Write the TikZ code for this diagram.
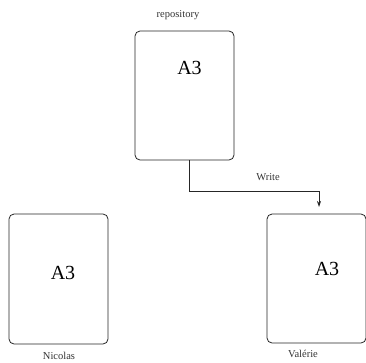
\documentclass[tikz,border=0pt]{standalone}
\usepackage{fontspec}
\setmainfont{Liberation Serif}
\usetikzlibrary{arrows.meta}

\begin{document}
\begin{tikzpicture}[x=1pt,y=-1pt,
        sheet/.style={rectangle,draw=black!85,line width=0.8pt,rounded corners=5pt,minimum width=99pt,minimum height=129pt,inner sep=0pt},
        size/.style={anchor=base,inner sep=0pt,font=\fontsize{20}{24}\selectfont},
        tag/.style={anchor=base,inner sep=0pt,text=black!80,font=\fontsize{10.5}{12}\selectfont}]
        \useasboundingbox (0,0) rectangle (366,362);
        \node[sheet] (repo) at (184.5,95.5){};
        \node[sheet,minimum height=130pt] (nico) at (58.5,279){};
        \node[sheet] (vale) at (316.5,278.5){};
        \node[size] (repoA) at (189.5,74){A3};
        \node[size] (nicoA) at (63,279){A3};
        \node[size] (valeA) at (327,275){A3};
        \node[tag] (repoT) at (178,17){repository};
        \node[tag] (nicoT) at (59,359){Nicolas};
        \node[tag] (valeT) at (303,357){Valérie};
        \coordinate (turn) at (189,191);
        \coordinate (tip) at (319,207);
        \draw[line width=0.8pt,draw=black!85,-{Stealth[length=6pt,width=4pt]}] (repo.south -| turn) -- (turn) -| (tip);
        \node[tag] (write) at (268,180){Write};
\end{tikzpicture}
\end{document}
